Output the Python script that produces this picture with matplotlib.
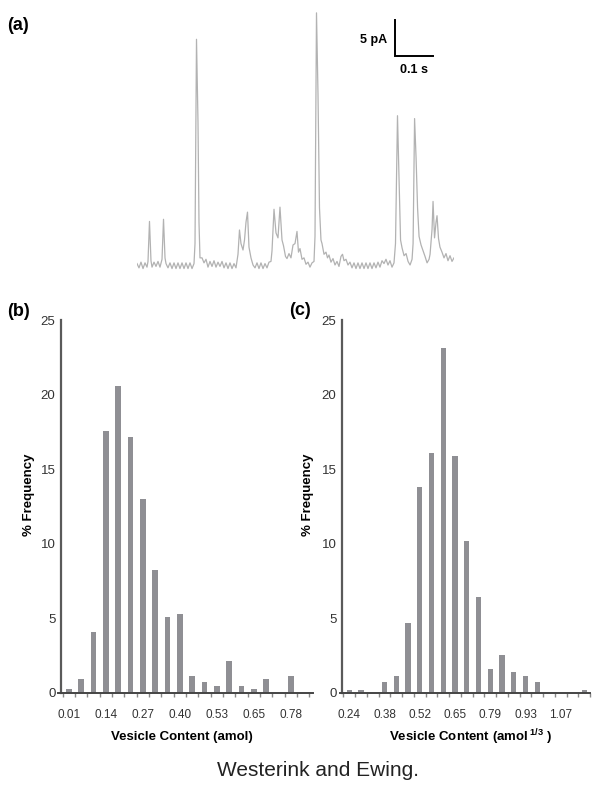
import matplotlib
matplotlib.use("Agg")
import matplotlib.pyplot as plt
import numpy as np

plt.rcParams['font.family'] = ['Liberation Sans', 'DejaVu Sans']
plt.rcParams['mathtext.fontset'] = 'custom'
plt.rcParams['mathtext.rm'] = 'Liberation Sans'
plt.rcParams['mathtext.bf'] = 'Liberation Sans:bold'

# ---------------- data ----------------
# (a) amperometric trace: time (ms), current (pA)
trace_t = [0, 5.2, 10.4, 15.7, 20.9, 26.1, 28.7, 32.6, 36.5, 39.2, 44.4, 49.6, 54.8, 60.0,
           65.3, 69.2, 73.1, 75.7, 80.9, 86.1, 91.4, 96.6, 101.8, 107.0, 112.2, 117.5, 122.7,
           127.9, 133.1, 138.3, 143.6, 148.8, 151.4, 155.3, 159.2, 161.8, 164.4, 169.7, 174.9,
           180.1, 185.3, 190.5, 195.8, 201.0, 206.2, 211.4, 216.6, 221.9, 227.1, 232.3, 237.5,
           242.7, 248.0, 253.2, 258.4, 263.6, 267.5, 271.4, 276.7, 280.6, 284.5, 288.4, 292.3,
           297.5, 302.8, 308.0, 313.2, 318.4, 323.6, 328.9, 334.1, 339.3, 344.5, 349.7, 352.4,
           357.6, 362.8, 368.0, 373.2, 378.5, 382.4, 387.6, 391.5, 396.7, 401.9, 407.2, 412.4,
           417.6, 421.5, 425.4, 430.7, 435.9, 441.1, 446.3, 451.5, 456.8, 462.0, 464.6, 468.5,
           472.4, 476.3, 480.2, 482.9, 488.1, 493.3, 497.2, 501.1, 506.3, 511.6, 516.8, 522.0,
           527.2, 532.4, 536.4, 540.3, 545.5, 550.7, 555.9, 561.2, 566.4, 571.6, 576.8, 582.0,
           587.3, 592.5, 597.7, 602.9, 608.1, 613.4, 618.6, 623.8, 629.0, 634.2, 639.5, 644.7,
           649.9, 655.1, 660.3, 665.6, 670.8, 674.7, 679.9, 684.0, 687.9, 691.8, 697.1, 702.3,
           707.5, 712.7, 717.9, 720.6, 724.5, 728.4, 732.3, 736.2, 741.4, 746.6, 751.8, 757.1,
           762.3, 764.9, 770.1, 772.7, 776.6, 780.5, 783.1, 787.0, 790.8, 796.1, 801.3, 806.5,
           811.7, 817.0, 822.2, 827.4]
trace_i = [0.2, -0.4, 0.4, -0.5, 0.3, -0.3, 0.5, 6.1, 0.6, -0.3, 0.4, -0.2, 0.5, -0.3,
           0.8, 6.4, 1.0, 0.2, -0.4, 0.3, -0.5, 0.3, -0.5, 0.3, -0.5, 0.3, -0.5,
           0.3, -0.5, 0.3, -0.5, 0.2, 3.0, 31.6, 20.0, 6.0, 1.0, 1.0, 0.3,
           0.8, -0.3, 0.5, -0.2, 0.6, -0.3, 0.4, -0.2, 0.5, -0.4, 0.3, -0.5,
           0.3, -0.5, 0.2, -0.4, 1.5, 4.9, 3.0, 2.1, 3.5, 6.0, 7.4, 2.5,
           1.0, 0.0, -0.4, 0.3, -0.5, 0.3, -0.5, 0.2, -0.4, 0.4, 0.5, 2.0,
           7.8, 4.5, 3.8, 8.1, 3.5, 2.7, 1.2, 0.9, 1.6, 1.0, 2.8, 3.0,
           4.7, 1.8, 2.3, 0.8, 1.0, 0.1, 0.4, -0.3, 0.3, 0.5, 4.0, 35.3,
           24.0, 8.0, 3.5, 3.0, 1.5, 1.8, 1.0, 1.4, 0.4, 0.9, 0.0, 0.5,
           -0.2, 1.2, 1.5, 0.6, 0.8, 0.0, 0.4, -0.4, 0.3, -0.5, 0.3, -0.5,
           0.3, -0.5, 0.3, -0.5, 0.3, -0.5, 0.3, -0.4, 0.4, -0.3, 0.6, 0.2,
           0.8, 0.0, 0.6, -0.3, 0.3, 3.0, 20.9, 12.0, 3.5, 2.4, 1.3, 1.6,
           0.5, 0.0, 0.8, 3.0, 20.5, 15.0, 8.0, 4.0, 2.8, 2.0, 1.2, 0.3,
           0.8, 1.5, 5.0, 8.9, 3.8, 6.0, 6.9, 3.7, 2.5, 1.8, 1.0, 1.6,
           0.6, 1.3, 0.5, 1.0]

# (b) vesicle content distribution
b_bins = ['0.01', '0.05', '0.10', '0.14', '0.18', '0.23', '0.27', '0.31', '0.36', '0.40',
          '0.44', '0.48', '0.53', '0.57', '0.61', '0.65', '0.70', '0.74', '0.78', '0.82']
b_freq = [0.25, 0.9, 4.1, 17.55, 20.6, 17.15, 13.0, 8.25, 5.05, 5.3,
          1.15, 0.7, 0.45, 2.1, 0.45, 0.25, 0.9, 0.0, 1.15, 0.0]

# (c) cube-root vesicle content distribution
c_bins = ['0.24', '0.29', '0.33', '0.38', '0.43', '0.47', '0.52', '0.56', '0.61', '0.65',
          '0.70', '0.75', '0.79', '0.84', '0.88', '0.93', '0.98', '1.02', '1.07', '1.12', '1.16']
c_freq = [0.16, 0.18, 0.0, 0.75, 1.15, 4.65, 13.8, 16.1, 23.1, 15.9,
          10.15, 6.4, 1.6, 2.55, 1.4, 1.15, 0.75, 0.0, 0.0, 0.0, 0.2]

W, H = 602, 791
fig = plt.figure(figsize=(W / 100, H / 100), dpi=100)


def fx(x):
    return x / W


def fy(y):
    return 1 - y / H


# ---------------- panel (a) ----------------
ax_a = fig.add_axes([fx(137), fy(275), (454 - 137) / W, 265 / H])
ax_a.plot(trace_t, trace_i, color='#b2b2b2', lw=0.9)
ax_a.set_xlim(0, 827.4)
ax_a.set_ylim(-1.4, 35.7)
ax_a.axis('off')
# scale bar 0.1 s x 5 pA
sb_x0, sb_y0 = 673.6, 29.3
ax_a.plot([sb_x0, sb_x0, sb_x0 + 100], [sb_y0 + 5, sb_y0, sb_y0], color='black',
          lw=1.4, clip_on=False, solid_joinstyle='miter')
fig.text(fx(387), fy(40), '5 pA', ha='right', va='center', fontsize=9, fontweight='bold')
fig.text(fx(414), fy(70), '0.1 s', ha='center', va='center', fontsize=9, fontweight='bold')

fig.text(fx(7), fy(26), '(a)', ha='left', va='center', fontsize=13, fontweight='bold')
fig.text(fx(7), fy(311), '(b)', ha='left', va='center', fontsize=13, fontweight='bold')
fig.text(fx(289), fy(310), '(c)', ha='left', va='center', fontsize=13, fontweight='bold')


def hist_panel(left_px, x0, unit, xmax, spine_at, cats, vals, width, ylab_x, xlabel, xlab_x):
    ax = fig.add_axes([fx(left_px), fy(692.7), (xmax - x0) * unit / W, (692.7 - 320) / H])
    pos = np.arange(len(cats))
    ax.bar(pos, vals, width=width, color='#8f8f94', edgecolor='none')
    ax.set_xlim(x0, xmax)
    ax.set_ylim(0, 25)
    for s in ['top', 'right']:
        ax.spines[s].set_visible(False)
    ax.spines['left'].set_position(('data', spine_at))
    ax.spines['left'].set_color('#5a5a5a')
    ax.spines['left'].set_linewidth(1.6)
    ax.spines['bottom'].set_color('#444444')
    ax.spines['bottom'].set_linewidth(1.4)
    ax.set_yticks([0, 5, 10, 15, 20, 25])
    ax.tick_params(axis='y', length=0, pad=4, labelsize=9.5, labelcolor='#333333')
    ax.set_xticks(pos[::3])
    ax.set_xticklabels(cats[::3])
    ax.set_xticks(np.arange(-0.5, len(cats), 1.0), minor=True)
    ax.tick_params(axis='x', which='major', length=0, pad=12, labelsize=8.5, labelcolor='#333333')
    ax.tick_params(axis='x', which='minor', length=3, width=1.0, color='#888888')
    ax.patch.set_alpha(0)
    fig.text(fx(ylab_x), fy(495), '% Frequency', rotation=90, ha='center', va='center',
             fontsize=9.5, fontweight='bold')
    fig.text(fx(xlab_x), fy(737), xlabel, ha='center', va='center', fontsize=9.5,
             fontweight='bold')
    return ax


# panel (b): bar i at 69 + 12.33 i px
hist_panel(69 - 0.9 * 12.33, -0.9, 12.33, 19.8, -0.65, b_bins, b_freq, 0.46, 29,
           'Vesicle Content (amol)', 182)
# panel (c): bar i at 349.3 + 11.75 i px
hist_panel(349.3 - 0.8 * 11.75, -0.8, 11.75, 20.5, -0.62, c_bins, c_freq, 0.45, 307.5,
           r'Vesicle Content (amol$\,^{\mathbf{1/3}}$ )', 471)

fig.text(fx(318), fy(770), 'Westerink and Ewing.', ha='center', va='center', fontsize=15,
         color='#222222')

fig.savefig('out.png', dpi=100)
